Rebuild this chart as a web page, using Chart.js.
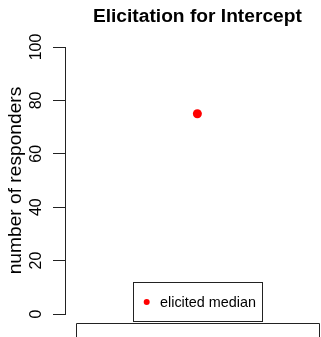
<!DOCTYPE html>
<html><head><meta charset="utf-8">
<script src="https://cdn.jsdelivr.net/npm/chart.js@4.4.0/dist/chart.umd.min.js"></script>
<style>html,body{margin:0;padding:0;background:#fff;overflow:hidden}#wrap{width:321px;height:337px;position:relative}</style>
</head><body>
<div id="wrap"><canvas id="c" width="321" height="337"></canvas></div>
<script>
const chartTitle = 'Elicitation for Intercept';
const yAxisTitle = 'number of responders';
const seriesName = 'elicited median';
const pointX = [1];
const pointY = [75];
const yTicks = [0, 20, 40, 60, 80, 100];
const xCenter = 1;
const FONT = '"Liberation Sans", Arial, Helvetica, sans-serif';

const decor = {
  id: 'decor',
  afterDraw(chart) {
    const {ctx, chartArea, scales: {x}} = chart;
    const cx = x.getPixelForValue(xCenter);
    ctx.save();
    // title
    ctx.fillStyle = '#000';
    ctx.font = 'bold 19.2px ' + FONT;
    ctx.textAlign = 'center';
    ctx.textBaseline = 'alphabetic';
    ctx.fillText(chartTitle, cx, 21.5);
    // legend
    const ds = chart.data.datasets[0];
    ctx.font = '14.4px ' + FONT;
    const tw = ctx.measureText(ds.label).width;
    const bw = Math.round(26.5 + tw + 6.5);
    const left = Math.round(cx - bw / 2) + 0.5;
    const top = chartArea.bottom - 31.5;
    const bh = 39;
    ctx.strokeStyle = '#222';
    ctx.lineWidth = 1;
    ctx.strokeRect(left, top, bw, bh);
    ctx.fillStyle = ds.backgroundColor;
    ctx.beginPath();
    ctx.arc(left + 13.2, top + 19.5, 3, 0, Math.PI * 2);
    ctx.fill();
    ctx.fillStyle = '#000';
    ctx.textAlign = 'left';
    ctx.fillText(ds.label, left + 26.5, top + 24.5);
    // lower panel box
    const by = chartArea.bottom + 9.5;
    ctx.strokeStyle = '#222';
    ctx.beginPath();
    ctx.moveTo(76.5, chart.height + 1);
    ctx.lineTo(76.5, by);
    ctx.lineTo(319.5, by);
    ctx.lineTo(319.5, chart.height + 1);
    ctx.stroke();
    ctx.restore();
  }
};

new Chart(document.getElementById('c'), {
  type: 'scatter',
  data: {
    datasets: [{
      label: seriesName,
      data: pointX.map((v, i) => ({x: v, y: pointY[i]})),
      backgroundColor: '#FF0000',
      borderWidth: 0,
      pointRadius: 4.5,
      pointHoverRadius: 4.5
    }]
  },
  options: {
    responsive: false,
    animation: false,
    events: [],
    layout: {padding: {top: 47, bottom: 23, left: 0, right: 3}},
    plugins: {legend: {display: false}, title: {display: false}, tooltip: {enabled: false}},
    scales: {
      x: {type: 'linear', min: 0, max: 1.9, display: false},
      y: {
        type: 'linear', min: 0, max: 100,
        afterBuildTicks: s => { s.ticks = yTicks.map(v => ({value: v})); },
        afterFit: s => { s.width = 65; },
        grid: {drawOnChartArea: false, drawTicks: true, tickLength: 12, color: '#222', lineWidth: 1},
        border: {display: true, color: '#222', width: 1},
        ticks: {
          minRotation: 90, maxRotation: 90, crossAlign: 'center', padding: 3,
          color: '#000', font: {family: FONT, size: 16}
        },
        title: {
          display: true, text: yAxisTitle, color: '#000',
          font: {family: FONT, size: 19.2, lineHeight: 1.2}, padding: {top: 4.2, bottom: 0}
        }
      }
    }
  },
  plugins: [decor]
});
</script>
</body></html>
